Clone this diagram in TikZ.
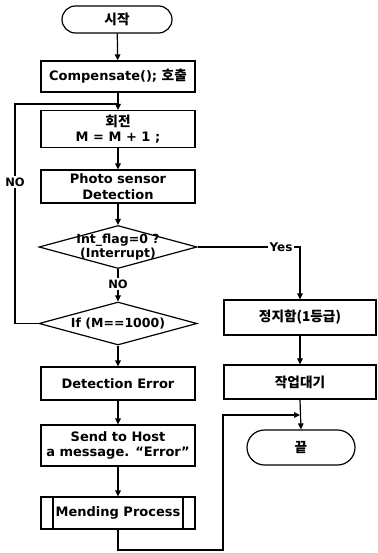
\documentclass[tikz,border=0pt]{standalone}
\usepackage{fontspec}
\setmainfont{DejaVu Sans}
\newfontfamily\kr{Noto Sans CJK KR}[Scale=1.05]
\usetikzlibrary{shapes.geometric,shapes.misc,arrows.meta}
\begin{document}
\begin{tikzpicture}[x=1pt,y=-1pt,line width=1.2pt,
  txt/.style={font=\fontsize{13}{15.5}\selectfont\bfseries},
  box/.style={draw,rectangle,minimum width=154pt,inner sep=0pt,align=center,txt},
  rbox/.style={draw,rectangle,minimum width=152pt,inner sep=0pt,align=center,txt},
  term/.style={draw,rounded rectangle,minimum width=110pt,minimum height=27pt,inner sep=0pt,txt},
  dec/.style={draw,diamond,inner sep=0pt,minimum width=158pt,minimum height=43pt},
  proc/.style={box,path picture={
    \draw ([xshift=12pt]path picture bounding box.north west) -- ([xshift=12pt]path picture bounding box.south west);
    \draw ([xshift=-12pt]path picture bounding box.north east) -- ([xshift=-12pt]path picture bounding box.south east);}},
  arr/.style={-{Triangle[length=6pt,width=5.5pt]}},
  lbl/.style={fill=white,inner sep=1pt,font=\fontsize{11.5}{13}\selectfont\bfseries}]
\useasboundingbox (0,0) rectangle (377,553);

\node[term] (start) at (117,19.5) {\kr 시작};
\node[box,minimum height=31pt] (comp) at (118,76.5) {Compensate(); {\kr 호출}};
\node[box,minimum height=37pt] (loop) at (118,129) {{\kr 회전}\\M = M + 1 ;};
\node[box,minimum height=33pt] (photo) at (118,186.5) {Photo sensor\\Detection};
\node[dec,label={[align=center,font=\fontsize{12.5}{14}\selectfont\bfseries]center:Int\_flag=0 ?\\(Interrupt)}] (d1) at (118,247) {};
\node[lbl] (no2) at (118,284) {NO};
\node[dec,label={[font=\fontsize{12.5}{14}\selectfont\bfseries]center:If (M==1000)}] (d2) at (118,323.5) {};
\node[box,minimum height=33pt] (deterr) at (118,383.5) {Detection Error};
\node[box,minimum height=41pt] (send) at (118,445.5) {Send to Host\\a message. ``Error''};
\node[proc,minimum height=32pt] (mend) at (118,513) {Mending Process};

\node[lbl] (no1) at (15,182) {NO};
\node[lbl,font=\fontsize{12}{14}\selectfont\bfseries] (yes) at (281,247) {Yes};

\node[rbox,minimum height=35pt] (stop) at (300,317.5) {\kr 정지함(1등급)};
\node[rbox,minimum height=34pt] (wait) at (300,382) {\kr 작업대기};
\node[term,minimum width=108pt,minimum height=35pt] (endn) at (301,447.5) {\kr 끝};

\coordinate (jn) at (118,104);
\coordinate (b1) at (118,550);
\coordinate (b2) at (223,550);
\coordinate (b3) at (223,415);
\coordinate (jn2) at (300,415);

\draw[arr] (start) -- (comp);
\draw[arr] (comp) -- (loop);
\draw[arr] (loop) -- (photo);
\draw[arr] (photo) -- (d1);
\draw (d1.south) -- (no2.north);
\draw[arr] (no2.south) -- (d2.north);
\draw[arr] (d2.south) -- (deterr);
\draw[arr] (deterr) -- (send);
\draw[arr] (send) -- (mend);
\draw (d2.west) -| (no1.south);
\draw (no1.north) |- (jn);
\draw (d1.east) -- (yes.west);
\draw[arr] (yes.east) -| (stop.north);
\draw[arr] (stop) -- (wait);
\draw[arr] (wait.south) -- (endn.north);
\draw[arr] (mend.south) -- (b1) -- (b2) -- (b3) -- (jn2);
\end{tikzpicture}
\end{document}
